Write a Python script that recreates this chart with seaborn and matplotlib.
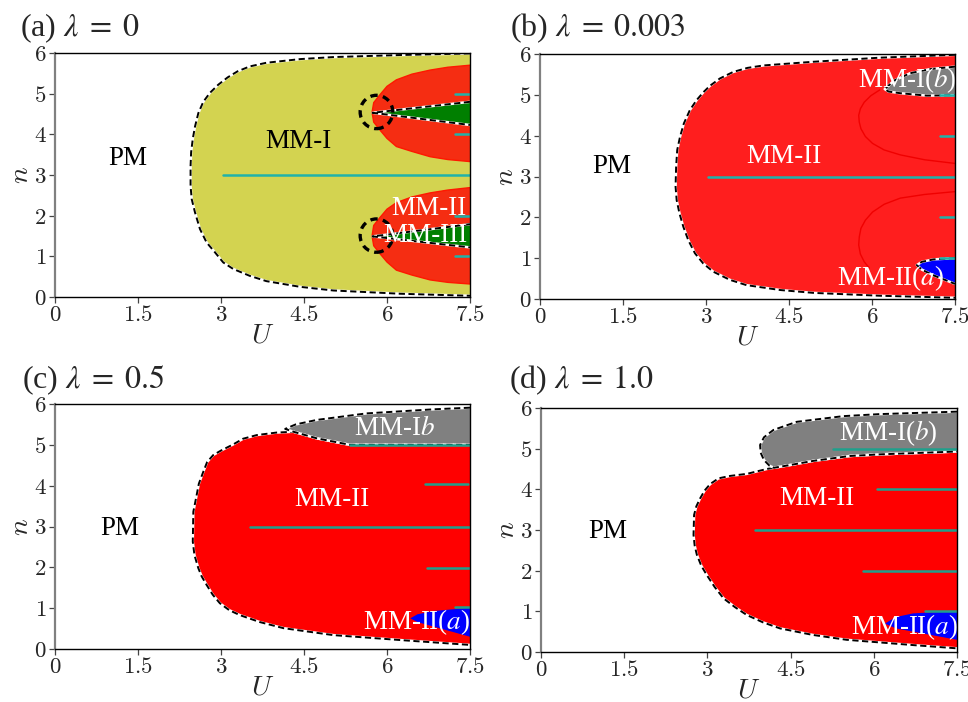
import numpy as np
import pandas as pd
import matplotlib
matplotlib.use("Agg")
import matplotlib.pyplot as plt
import seaborn as sns
from matplotlib.patches import Ellipse

sns.set_style("ticks")
plt.rcParams["font.family"] = ["Liberation Serif", "DejaVu Serif"]
plt.rcParams["mathtext.fontset"] = "cm"

# ---------------- data ----------------
x_ticks = [0, 1.5, 3, 4.5, 6, 7.5]
x_ticklabels = ["0", "1.5", "3", "4.5", "6", "7.5"]
y_ticks = [0, 1, 2, 3, 4, 5, 6]
y_ticklabels = ["0", "1", "2", "3", "4", "5", "6"]

titles = [r"(a) $\lambda\;=\;0$", r"(b) $\lambda\;=\;0.003$",
          r"(c) $\lambda\;=\;0.5$", r"(d) $\lambda\;=\;1.0$"]

# panel (a) lambda = 0
a_outer_U = [7.5, 6.24, 5.03, 4.43, 3.82, 3.52, 3.30, 3.12, 2.95, 2.80, 2.68, 2.59, 2.53, 2.49, 2.46,
             2.45, 2.45, 2.47, 2.53, 2.62, 2.74, 2.89, 3.04, 3.22, 3.52, 3.82, 4.43, 5.03, 6.24, 7.5]
a_outer_n = [5.99, 5.95, 5.90, 5.85, 5.76, 5.67, 5.55, 5.40, 5.22, 5.02, 4.80, 4.52, 4.19, 3.89, 3.56,
             3.22, 2.73, 2.41, 2.08, 1.67, 1.34, 1.10, 0.85, 0.69, 0.52, 0.39, 0.25, 0.16, 0.08, 0.03]
a_red_U = [7.5, 7.1, 6.78, 6.45, 6.17, 6.0, 5.87, 5.76, 5.73, 5.76, 5.87, 6.0, 6.17, 6.45, 6.78, 7.1, 7.5]
a_red1_n = [5.70, 5.65, 5.58, 5.48, 5.34, 5.18, 4.97, 4.78, 4.54, 4.30, 4.11, 3.90, 3.70, 3.58, 3.45, 3.38, 3.33]
a_red2_n = [2.69, 2.63, 2.56, 2.46, 2.32, 2.16, 1.95, 1.76, 1.50, 1.26, 1.07, 0.86, 0.66, 0.54, 0.42, 0.36, 0.32]
a_green_U = [7.5, 5.74, 7.5]
a_green1_n = [4.80, 4.53, 4.23]
a_green2_n = [1.79, 1.49, 1.22]
a_circle_U = [5.81, 5.81]
a_circle_n = [4.55, 1.51]
a_teal_start = [7.23, 7.23, 3.03, 7.23, 7.23]
a_teal_n = [5, 4, 3, 2, 1]

# panel (b) lambda = 0.003
b_outer_U = [7.5, 6.14, 4.94, 4.04, 3.75, 3.49, 3.25, 3.07, 2.95, 2.83, 2.71, 2.60, 2.53, 2.48, 2.46, 2.45, 2.47,
             2.52, 2.59, 2.68, 2.80, 2.95, 3.13, 3.43, 3.73, 4.34, 4.94, 6.14, 7.5]
b_outer_n = [5.98, 5.91, 5.81, 5.72, 5.66, 5.56, 5.40, 5.22, 5.06, 4.87, 4.63, 4.30, 3.97, 3.65, 3.24, 2.75, 2.42,
             2.10, 1.77, 1.44, 1.12, 0.87, 0.67, 0.47, 0.34, 0.22, 0.15, 0.08, 0.03]
b_cont1_U = [6.14, 5.98, 5.86, 5.79, 5.76, 5.77, 5.80, 5.88, 6.01, 6.22, 6.51, 6.95, 7.5]
b_cont1_n = [5.12, 4.98, 4.82, 4.66, 4.50, 4.33, 4.17, 3.98, 3.81, 3.65, 3.53, 3.41, 3.32]
b_cont2_U = [7.5, 6.95, 6.51, 6.22, 6.01, 5.88, 5.80, 5.77, 5.76, 5.79, 5.86, 5.95]
b_cont2_n = [2.63, 2.56, 2.47, 2.32, 2.13, 1.93, 1.73, 1.52, 1.32, 1.10, 0.91, 0.76]
b_gray_U = [7.5, 7.05, 6.69, 6.40, 6.23, 6.30, 6.51, 6.99, 7.5]
b_gray_n = [5.69, 5.63, 5.53, 5.35, 5.14, 5.08, 5.04, 4.98, 4.99]
b_blue_U = [7.5, 7.11, 6.90, 6.81, 6.90, 7.11, 7.5]
b_blue_n = [1.00, 0.97, 0.91, 0.83, 0.72, 0.58, 0.37]
b_teal_start = [7.23, 7.23, 3.04, 7.23, 7.23]
b_teal_n = [5, 4, 3, 2, 1]

# panel (c) lambda = 0.5
c_red_U = [7.5, 5.33, 4.73, 4.45, 4.31, 4.0, 3.65, 3.40, 3.22, 3.0, 2.86, 2.75, 2.68, 2.60, 2.56, 2.50, 2.49,
           2.52, 2.59, 2.65, 2.74, 2.85, 2.98, 3.15, 3.34, 3.7, 4.13, 5.03, 6.23, 7.5]
c_red_n = [5.00, 5.00, 5.16, 5.27, 5.32, 5.30, 5.24, 5.15, 5.01, 4.86, 4.75, 4.58, 4.34, 4.05, 3.77, 3.36, 2.63,
           2.30, 1.98, 1.78, 1.57, 1.33, 1.12, 0.95, 0.83, 0.66, 0.51, 0.34, 0.22, 0.10]
c_gray_U = [7.5, 6.84, 5.63, 4.73, 4.35, 4.16, 4.31, 4.73, 5.33, 7.5]
c_gray_n = [5.91, 5.87, 5.77, 5.61, 5.50, 5.39, 5.32, 5.16, 5.00, 5.00]
c_blue_U = [7.5, 6.84, 6.55, 6.42, 6.55, 6.84, 7.5]
c_blue_n = [1.01, 0.93, 0.85, 0.75, 0.66, 0.55, 0.30]
c_teal_start = [5.33, 6.69, 3.52, 6.72, 7.23]
c_teal_end = [7.5, 7.47, 7.5, 7.5, 7.5]
c_teal_n = [5, 4.04, 3, 1.98, 1.04]

# panel (d) lambda = 1.0
d_red_U = [7.5, 6.11, 5.57, 4.91, 4.50, 4.07, 3.71, 3.41, 3.20, 3.05, 2.95, 2.87, 2.80, 2.76, 2.75, 2.77, 2.81,
           2.89, 2.99, 3.13, 3.29, 3.50, 3.71, 4.0, 4.31, 4.9, 5.51, 6.71, 7.5]
d_red_n = [4.93, 4.86, 4.82, 4.70, 4.60, 4.50, 4.38, 4.33, 4.27, 4.13, 3.97, 3.78, 3.58, 3.37, 2.88, 2.62, 2.39,
           2.12, 1.89, 1.60, 1.32, 1.10, 0.91, 0.73, 0.58, 0.42, 0.30, 0.17, 0.09]
d_gray_U = [7.5, 6.11, 5.45, 4.61, 4.19, 4.02, 3.95, 3.96, 4.02, 4.12, 4.20, 4.50, 4.91, 5.57, 6.11, 7.5]
d_gray_n = [5.91, 5.85, 5.80, 5.66, 5.46, 5.28, 5.09, 4.90, 4.72, 4.58, 4.53, 4.60, 4.70, 4.82, 4.86, 4.93]
d_blue_U = [7.5, 6.71, 6.40, 6.20, 6.40, 6.71, 7.5]
d_blue_n = [1.01, 0.95, 0.86, 0.70, 0.58, 0.50, 0.30]
d_teal_start = [5.27, 6.05, 3.86, 5.81, 6.92]
d_teal_n = [5, 4, 3, 2, 1.01]

# labels: (text, U, n, colour)
a_labels = [("PM", 1.32, 3.41, "k"), ("MM-I", 4.40, 3.82, "k"),
            ("MM-II", 6.75, 2.18, "w"), ("MM-III", 6.69, 1.52, "w")]
b_labels = [("PM", 1.30, 3.24, "k"), ("MM-II", 4.40, 3.49, "w"),
            (r"MM-I($b$)", 6.63, 5.36, "w"), (r"MM-II($a$)", 6.33, 0.51, "w")]
c_labels = [("PM", 1.17, 2.96, "k"), ("MM-II", 5.00, 3.65, "w"),
            (r"MM-I$b$", 6.14, 5.40, "w"), (r"MM-II($a$)", 6.54, 0.67, "w")]
d_labels = [("PM", 1.21, 2.96, "k"), ("MM-II", 4.97, 3.78, "w"),
            (r"MM-I($b$)", 6.26, 5.38, "w"), (r"MM-II($a$)", 6.56, 0.62, "w")]

# ---------------- styling ----------------
YELLOW = "#d3d350"
RED_A = "#f52d12"
RED_B = "#ff1e1e"
RED_CD = "#ff0000"
GREEN = "#007f00"
GRAY = "#808080"
BLUE = "#0000ff"
TEAL_AB = "#20b2aa"
TEAL_CD = "#1fa08c"

W, H = 968, 702
fig = plt.figure(figsize=(W / 100, H / 100), dpi=100)
rects = [(55, 297, 415, 244), (540, 299, 415, 245), (55, 649, 415, 245), (541, 652, 416, 244)]
axes = [fig.add_axes([x / W, 1 - yb / H, w / W, h / H]) for x, yb, w, h in rects]


def dashed(ax, U, n, z=5, lw=1.4):
    sns.lineplot(x=U, y=n, sort=False, estimator=None, ax=ax, color="white",
                 lw=lw + 0.4, zorder=z)
    sns.lineplot(x=U, y=n, sort=False, estimator=None, ax=ax, color="black",
                 lw=lw, linestyle=(0, (3.2, 1.8)), zorder=z + 0.1)


def region(ax, U, n, color, z=2, edge=True, edgecolor=None):
    ax.fill(U, n, color=color, lw=0, zorder=z)
    if edgecolor is not None:
        sns.lineplot(x=U, y=n, sort=False, estimator=None, ax=ax,
                     color=edgecolor, lw=1.0, zorder=z + 0.05)
    if edge:
        dashed(ax, U, n, z=z + 3)


def teal(ax, starts, ns, color, ends=None):
    if ends is None:
        ends = [7.5] * len(starts)
    for s, e, yv in zip(starts, ends, ns):
        sns.lineplot(x=[s, e], y=[yv, yv], ax=ax, color=color, lw=1.8,
                     zorder=8, estimator=None, sort=False)


def labels(ax, lab):
    for t, u, nn, c in lab:
        ax.text(u, nn, t, color=c, fontsize=19.5, ha="center", va="center",
                math_fontfamily="stix", zorder=12)


# (a)
ax = axes[0]
region(ax, a_outer_U, a_outer_n, YELLOW, z=1)
region(ax, a_red_U, a_red1_n, RED_A, z=2, edge=False, edgecolor="#ff1800")
region(ax, a_red_U, a_red2_n, RED_A, z=2, edge=False, edgecolor="#ff1800")
region(ax, a_green_U, a_green1_n, GREEN, z=3)
region(ax, a_green_U, a_green2_n, GREEN, z=3)
for cu, cn in zip(a_circle_U, a_circle_n):
    ax.add_patch(Ellipse((cu, cn), 0.59, 0.82, fill=False, ec="black",
                         lw=2.4, ls=(0, (2.2, 1.6)), zorder=9))
teal(ax, a_teal_start, a_teal_n, TEAL_AB)
labels(ax, a_labels)

# (b)
ax = axes[1]
region(ax, b_outer_U, b_outer_n, RED_B, z=1)
for cu, cn in [(b_cont1_U, b_cont1_n), (b_cont2_U, b_cont2_n)]:
    sns.lineplot(x=cu, y=cn, sort=False, estimator=None, ax=ax,
                 color="#f00000", lw=1.0, zorder=2)
region(ax, b_gray_U, b_gray_n, GRAY, z=3)
region(ax, b_blue_U, b_blue_n, BLUE, z=3)
teal(ax, b_teal_start, b_teal_n, TEAL_AB)
labels(ax, b_labels)

# (c)
ax = axes[2]
region(ax, c_red_U, c_red_n, RED_CD, z=1)
region(ax, c_gray_U, c_gray_n, GRAY, z=2)
region(ax, c_blue_U, c_blue_n, BLUE, z=3, edge=False)
teal(ax, c_teal_start, c_teal_n, TEAL_CD, ends=c_teal_end)
labels(ax, c_labels)

# (d)
ax = axes[3]
region(ax, d_red_U, d_red_n, RED_CD, z=1)
region(ax, d_gray_U, d_gray_n, GRAY, z=2)
region(ax, d_blue_U, d_blue_n, BLUE, z=3, edge=False)
teal(ax, d_teal_start, d_teal_n, TEAL_CD)
labels(ax, d_labels)

title_pos = [(20, 36), (510, 36), (22, 388), (509, 388)]
for ax, t, (tx, ty) in zip(axes, titles, title_pos):
    ax.set_xlim(0, 7.5)
    ax.set_ylim(0, 6)
    ax.set_xticks(x_ticks)
    ax.set_xticklabels(["$%s$" % s for s in x_ticklabels], fontsize=16.5)
    ax.set_yticks(y_ticks)
    ax.set_yticklabels(["$%s$" % s for s in y_ticklabels], fontsize=16.5)
    ax.tick_params(direction="out", length=4, width=0.9, pad=2, color="#444444")
    ax.set_xlabel("$U$", fontsize=20, labelpad=-2)
    ax.set_ylabel("$n$", fontsize=20, labelpad=0)
    for s in ["top", "right", "bottom"]:
        ax.spines[s].set_color("black")
        ax.spines[s].set_linewidth(1.0)
        ax.spines[s].set_zorder(20)
    ax.spines["left"].set_color("#808080")
    ax.spines["left"].set_linewidth(1.6)
    ax.set_facecolor("white")
    fig.text(tx / W, 1 - ty / H, t, fontsize=23, ha="left", va="baseline",
             math_fontfamily="stix")

fig.savefig("out.png", dpi=100)
